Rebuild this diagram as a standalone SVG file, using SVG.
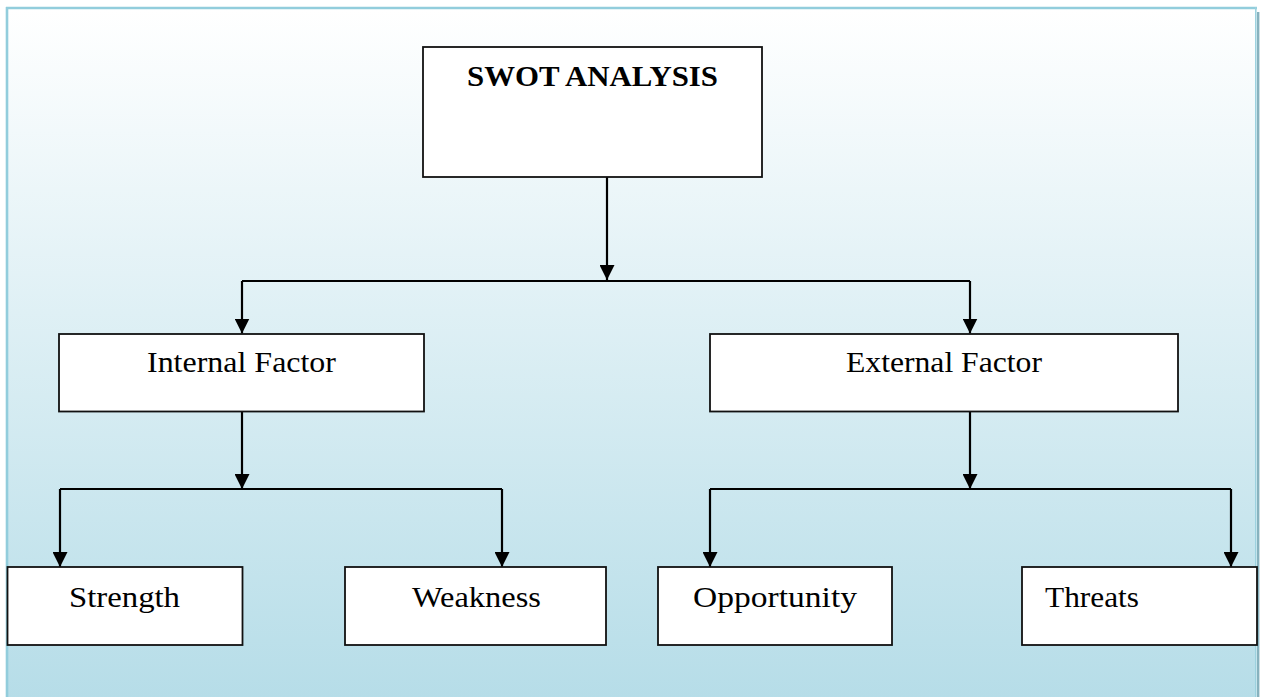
<svg xmlns="http://www.w3.org/2000/svg" width="1264" height="697" viewBox="0 0 1264 697">
  <defs>
    <linearGradient id="bg" x1="0" y1="0" x2="0" y2="1">
      <stop offset="0" stop-color="#FFFFFF"/>
      <stop offset="1" stop-color="#B6DDE8"/>
    </linearGradient>
    <marker id="arr" markerWidth="15" markerHeight="15" refX="15" refY="7.5" orient="auto" markerUnits="userSpaceOnUse">
      <path d="M0,0 L15,7.5 L0,15 Z" fill="#000"/>
    </marker>
    <style>
      .box { fill: #FFFFFF; stroke: #111111; stroke-width: 1.8; }
      .lbl { font-family: "Liberation Serif", "Times New Roman", serif; font-size: 29px; fill: #000000; }
      .title { font-weight: bold; font-size: 30px; }
      .conn { fill: none; stroke: #000000; stroke-width: 2.2; }
    </style>
  </defs>

  <!-- background and frame -->
  <rect x="8" y="9" width="1248" height="690" fill="url(#bg)"/>
  <line x1="7" y1="7" x2="7" y2="697" stroke="#92CDDC" stroke-width="2.6"/>
  <line x1="6" y1="8" x2="1257" y2="8" stroke="#92CDDC" stroke-width="2.6"/>
  <line x1="1255.8" y1="7" x2="1255.8" y2="697" stroke="#9DD2DF" stroke-width="1.6"/>
  <line x1="1258.2" y1="12" x2="1258.2" y2="697" stroke="#87B2BE" stroke-width="2.4"/>

  <g id="connectors">
    <path class="conn" d="M607,177 V280" marker-end="url(#arr)"/>
    <path class="conn" d="M242,281 H970"/>
    <path class="conn" d="M242,281 V333.5" marker-end="url(#arr)"/>
    <path class="conn" d="M970,281 V333.5" marker-end="url(#arr)"/>
    <path class="conn" d="M242,411.5 V489" marker-end="url(#arr)"/>
    <path class="conn" d="M60,489 H502"/>
    <path class="conn" d="M60,489 V567" marker-end="url(#arr)"/>
    <path class="conn" d="M502,489 V567" marker-end="url(#arr)"/>
    <path class="conn" d="M970,411.5 V489" marker-end="url(#arr)"/>
    <path class="conn" d="M710,489 H1231"/>
    <path class="conn" d="M710,489 V567" marker-end="url(#arr)"/>
    <path class="conn" d="M1231,489 V567" marker-end="url(#arr)"/>
  </g>

  <g id="swot">
    <rect class="box" x="423" y="47" width="339" height="130"/>
    <text class="lbl title" x="467" y="86" textLength="251" lengthAdjust="spacingAndGlyphs">SWOT ANALYSIS</text>
  </g>
  <g id="internal">
    <rect class="box" x="59" y="334" width="365" height="77.5"/>
    <text class="lbl" x="147" y="371.5" textLength="189" lengthAdjust="spacingAndGlyphs">Internal Factor</text>
  </g>
  <g id="external">
    <rect class="box" x="710" y="334" width="468" height="77.5"/>
    <text class="lbl" x="846" y="371.5" textLength="196" lengthAdjust="spacingAndGlyphs">External Factor</text>
  </g>
  <g id="strength">
    <rect class="box" x="7.5" y="567" width="235" height="78"/>
    <text class="lbl" x="69" y="606.5" textLength="111" lengthAdjust="spacingAndGlyphs">Strength</text>
  </g>
  <g id="weakness">
    <rect class="box" x="345" y="567" width="261" height="78"/>
    <text class="lbl" x="412" y="606.5" textLength="129" lengthAdjust="spacingAndGlyphs">Weakness</text>
  </g>
  <g id="opportunity">
    <rect class="box" x="658" y="567" width="234" height="78"/>
    <text class="lbl" x="693" y="606.5" textLength="164" lengthAdjust="spacingAndGlyphs">Opportunity</text>
  </g>
  <g id="threats">
    <rect class="box" x="1022" y="567" width="235" height="78"/>
    <text class="lbl" x="1045" y="606.5" textLength="94" lengthAdjust="spacingAndGlyphs">Threats</text>
  </g>
</svg>
